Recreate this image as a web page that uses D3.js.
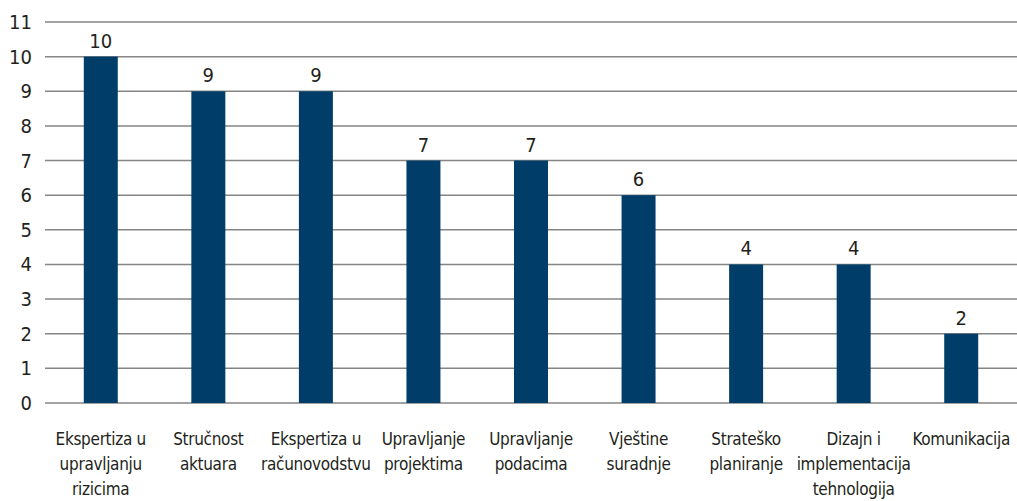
<!DOCTYPE html>
<html>
<head>
<meta charset="utf-8">
<script src="https://cdn.jsdelivr.net/npm/d3@7"></script>
<style>
  body { margin: 0; background: #fff; }
  text { font-family: "Liberation Sans Narrow", "DejaVu Sans", sans-serif; font-stretch: condensed; fill: #231f20; }
</style>
</head>
<body>
<svg id="chart" width="1017" height="501"></svg>
<script>
// Data
var categories = [
  ["Ekspertiza u", "upravljanju", "rizicima"],
  ["Stručnost", "aktuara"],
  ["Ekspertiza u", "računovodstvu"],
  ["Upravljanje", "projektima"],
  ["Upravljanje", "podacima"],
  ["Vještine", "suradnje"],
  ["Strateško", "planiranje"],
  ["Dizajn i", "implementacija", "tehnologija"],
  ["Komunikacija"]
];
var values = [10, 9, 9, 7, 7, 6, 4, 4, 2];
var yTicks = [0, 1, 2, 3, 4, 5, 6, 7, 8, 9, 10, 11];

var svg = d3.select("#chart"),
  width = +svg.attr("width"),
  height = +svg.attr("height");

var gridLeft = 45, plotLeft = 47, plotRight = 1015, plotTop = 22, plotBottom = 403;

var x = d3.scaleBand()
  .domain(d3.range(values.length))
  .range([plotLeft, plotRight])
  .paddingInner(0.684)
  .paddingOuter(0.342);

var y = d3.scaleLinear().domain([0, 11]).range([plotBottom, plotTop]);

// gridlines
svg.append("g")
  .selectAll("line")
  .data(yTicks)
  .enter()
  .append("line")
    .attr("x1", gridLeft)
    .attr("x2", width)
    .attr("y1", function(d) { return y(d); })
    .attr("y2", function(d) { return y(d); })
    .attr("stroke", "#858585")
    .attr("stroke-width", 1.5);

// y axis labels
svg.append("g")
  .selectAll("text")
  .data(yTicks)
  .enter()
  .append("text")
    .attr("x", 32)
    .attr("y", function(d) { return y(d); })
    .attr("dy", "0.35em")
    .attr("text-anchor", "end")
    .style("font-size", "20px")
    .text(function(d) { return d; });

// bars
svg.append("g")
  .selectAll("rect")
  .data(values)
  .enter()
  .append("rect")
    .attr("x", function(d, i) { return x(i); })
    .attr("y", function(d) { return y(d); })
    .attr("width", x.bandwidth())
    .attr("height", function(d) { return y(0) - y(d); })
    .attr("fill", "#003e69");

// value labels
svg.append("g")
  .selectAll("text")
  .data(values)
  .enter()
  .append("text")
    .attr("x", function(d, i) { return x(i) + x.bandwidth() / 2; })
    .attr("y", function(d) { return y(d) - 9; })
    .attr("text-anchor", "middle")
    .style("font-size", "20px")
    .text(function(d) { return d; });

// category labels
var cat = svg.append("g")
  .selectAll("text")
  .data(categories)
  .enter()
  .append("text")
    .attr("text-anchor", "middle")
    .style("font-size", "17px")
    .style("letter-spacing", "-0.3px");

cat.selectAll("tspan")
  .data(function(d, i) { return d.map(function(t) { return { t: t, i: i }; }); })
  .enter()
  .append("tspan")
    .attr("x", function(d) { return x(d.i) + x.bandwidth() / 2; })
    .attr("y", function(d, j) { return 445 + j * 25; })
    .text(function(d) { return d.t; });
</script>
</body>
</html>
